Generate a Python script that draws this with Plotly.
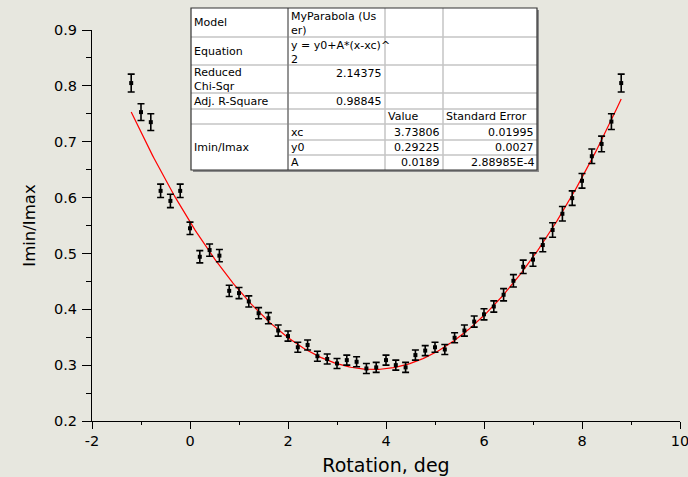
import plotly.graph_objects as go

# ---- data ----
rotation = [-1.2, -1.0, -0.8, -0.6, -0.4, -0.2, 0.0, 0.2, 0.4, 0.6,
            0.8, 1.0, 1.2, 1.4, 1.6, 1.8, 2.0, 2.2, 2.4, 2.6,
            2.8, 3.0, 3.2, 3.4, 3.6, 3.8, 4.0, 4.2, 4.4, 4.6,
            4.8, 5.0, 5.2, 5.4, 5.6, 5.8, 6.0, 6.2, 6.4, 6.6,
            6.8, 7.0, 7.2, 7.4, 7.6, 7.8, 8.0, 8.2, 8.4, 8.6, 8.8]
ratio = [0.805, 0.753, 0.735, 0.612, 0.594, 0.612, 0.545, 0.494, 0.506, 0.496,
         0.433, 0.429, 0.414, 0.393, 0.384, 0.362, 0.352, 0.332, 0.336, 0.316,
         0.311, 0.303, 0.309, 0.306, 0.294, 0.296, 0.309, 0.300, 0.296, 0.318,
         0.326, 0.332, 0.328, 0.349, 0.362, 0.378, 0.391, 0.405, 0.426, 0.451,
         0.476, 0.489, 0.515, 0.542, 0.571, 0.599, 0.630, 0.674, 0.696, 0.736, 0.805]
ratio_err = [0.016, 0.015, 0.015, 0.012, 0.012, 0.012, 0.011, 0.011, 0.011, 0.011,
             0.010, 0.010, 0.010, 0.010, 0.010, 0.010, 0.009, 0.009, 0.009, 0.009,
             0.009, 0.009, 0.009, 0.009, 0.009, 0.009, 0.009, 0.009, 0.009, 0.009,
             0.009, 0.009, 0.009, 0.009, 0.010, 0.010, 0.010, 0.010, 0.011, 0.011,
             0.012, 0.012, 0.012, 0.013, 0.013, 0.013, 0.013, 0.013, 0.014, 0.014, 0.016]

x_tick_vals = [-2, 0, 2, 4, 6, 8, 10]
x_tick_text = ["-2", "0", "2", "4", "6", "8", "10"]

# fit parameters (from the table)
fit_xc = 3.73806
fit_y0 = 0.29225
fit_A = 0.0189
fit_x_start = -1.2
fit_x_end = 8.8

table_rows = [
    ["Model", "MyParabola (Us<br>er)", "", ""],
    ["Equation", "y = y0+A*(x-xc)^<br>2", "", ""],
    ["Reduced<br>Chi-Sqr", "2.14375", "", ""],
    ["Adj. R-Square", "0.98845", "", ""],
    ["", "", "Value", "Standard Error"],
    ["", "xc", "3.73806", "0.01995"],
    ["Imin/Imax", "y0", "0.29225", "0.0027"],
    ["", "A", "0.0189", "2.88985E-4"],
]

# ---- figure ----
W, H = 688, 477
L, R, T, B = 92, 8, 30, 56
PW, PH = W - L - R, H - T - B
FONT = "DejaVu Sans, Liberation Sans, Arial, sans-serif"
bg = "#e7e7df"

def px(x):
    return (x - L) / PW

def py(y):
    return (H - B - y) / PH

n_fit = 300
fit_x = [fit_x_start + (fit_x_end - fit_x_start) * i / (n_fit - 1) for i in range(n_fit)]
fit_y = [fit_y0 + fit_A * (x - fit_xc) ** 2 for x in fit_x]

fig = go.Figure()
fig.add_trace(go.Scatter(x=fit_x, y=fit_y, mode="lines",
                         line=dict(color="#ff0000", width=1.2),
                         hoverinfo="skip", showlegend=False))
fig.add_trace(go.Scatter(x=rotation, y=ratio, mode="markers",
                         marker=dict(symbol="square", size=4, color="black"),
                         error_y=dict(type="data", array=ratio_err, visible=True,
                                      color="black", thickness=1.6, width=3.5),
                         showlegend=False))

fig.update_layout(
    width=W, height=H,
    margin=dict(l=L, r=R, t=T, b=B, autoexpand=False),
    paper_bgcolor=bg, plot_bgcolor=bg,
    font=dict(family=FONT, color="black"),
    xaxis=dict(range=[-2, 10], tickmode="array", tickvals=x_tick_vals,
               ticktext=x_tick_text, ticks="outside", ticklen=7,
               tickwidth=1.2, tickcolor="black", showline=True, linecolor="black",
               linewidth=1.2, showgrid=False, zeroline=False,
               tickfont=dict(size=14.5), ticklabelstandoff=-1,
               ticklabeloverflow="allow", automargin=False,
               minor=dict(dtick=1, tick0=-2, ticks="outside", ticklen=3,
                          tickcolor="black", tickwidth=1.2, showgrid=False),
               title=dict(text="Rotation, deg", font=dict(size=19), standoff=11)),
    yaxis=dict(range=[0.2, 0.9], dtick=0.1, tick0=0.2, ticks="outside", ticklen=9,
               tickwidth=1.2, tickcolor="black", showline=True, linecolor="black",
               linewidth=1.2, showgrid=False, zeroline=False, automargin=False,
               tickformat=".1f", tickfont=dict(size=14.5), ticklabelstandoff=2,
               minor=dict(dtick=0.05, ticks="outside", ticklen=4.5, tickcolor="black",
                          tickwidth=1.2, showgrid=False),
               title=dict(text="Imin/Imax", font=dict(size=16.5), standoff=14)),
)

# ---- statistics table (layout decoration) ----
col_edges = [191, 288, 385, 443, 537]
row_edges = [8, 37, 65, 93, 109, 124, 140, 155, 170]
shapes = []
shapes.append(dict(type="rect", xref="paper", yref="paper",
                   x0=px(col_edges[0] + 2), x1=px(col_edges[-1] + 2),
                   y0=py(row_edges[0] + 2), y1=py(row_edges[-1] + 2),
                   fillcolor="#8a8a8a", line=dict(width=0), layer="above"))
shapes.append(dict(type="rect", xref="paper", yref="paper",
                   x0=px(col_edges[0]), x1=px(col_edges[-1]),
                   y0=py(row_edges[0]), y1=py(row_edges[-1]),
                   fillcolor="white", line=dict(width=0), layer="above"))
grid_col = "#c4c4c4"
for i, ry in enumerate(row_edges[1:-1], start=1):
    x0 = col_edges[0]
    if i in (6, 7):  # merged cell in first column
        x0 = col_edges[1]
    shapes.append(dict(type="line", xref="paper", yref="paper",
                       x0=px(x0), x1=px(col_edges[-1]), y0=py(ry), y1=py(ry),
                       line=dict(color=grid_col, width=1.5), layer="above"))
for cx in col_edges[1:-1]:
    shapes.append(dict(type="line", xref="paper", yref="paper",
                       x0=px(cx), x1=px(cx), y0=py(row_edges[0]), y1=py(row_edges[-1]),
                       line=dict(color=grid_col, width=1.5), layer="above"))
shapes.append(dict(type="line", xref="paper", yref="paper",
                   x0=px(col_edges[1]), x1=px(col_edges[1]),
                   y0=py(row_edges[0]), y1=py(row_edges[-1]),
                   line=dict(color="#555555", width=1), layer="above"))
shapes.append(dict(type="rect", xref="paper", yref="paper",
                   x0=px(col_edges[0]), x1=px(col_edges[-1]),
                   y0=py(row_edges[0]), y1=py(row_edges[-1]),
                   fillcolor="rgba(0,0,0,0)", line=dict(color="#333333", width=1.2),
                   layer="above"))

annotations = []
tf = dict(size=11, color="black", family=FONT)
top_aligned = {(0, 1), (1, 1), (2, 1)}
for r, row in enumerate(table_rows):
    for c, txt in enumerate(row):
        if not txt:
            continue
        y_top, y_bot = row_edges[r], row_edges[r + 1]
        if c == 0 and txt == "Imin/Imax":
            y_top, y_bot = row_edges[5], row_edges[8]
        left_align = (c == 0) or (c == 1 and r in (0, 1, 5, 6, 7)) or (r == 4)
        if left_align:
            ax, anchor = col_edges[c] + 1, "left"
        else:
            ax, anchor = col_edges[c + 1] - 1, "right"
        if (r, c) in top_aligned:
            ay, yanchor = y_top, "top"
        else:
            ay, yanchor = (y_top + y_bot) / 2, "middle"
        annotations.append(dict(text=txt, xref="paper", yref="paper",
                                x=px(ax), y=py(ay), xanchor=anchor, yanchor=yanchor,
                                align=anchor, showarrow=False, font=tf,
                                borderpad=1))

fig.update_layout(shapes=shapes, annotations=annotations)

page_fix = ("document.body.style.margin='0';"
            "document.body.style.padding='0';"
            "document.body.style.overflow='hidden';"
            "document.body.style.background='" + bg + "';")
fig.write_html("out.html", post_script=page_fix,
               config={"displayModeBar": False})
